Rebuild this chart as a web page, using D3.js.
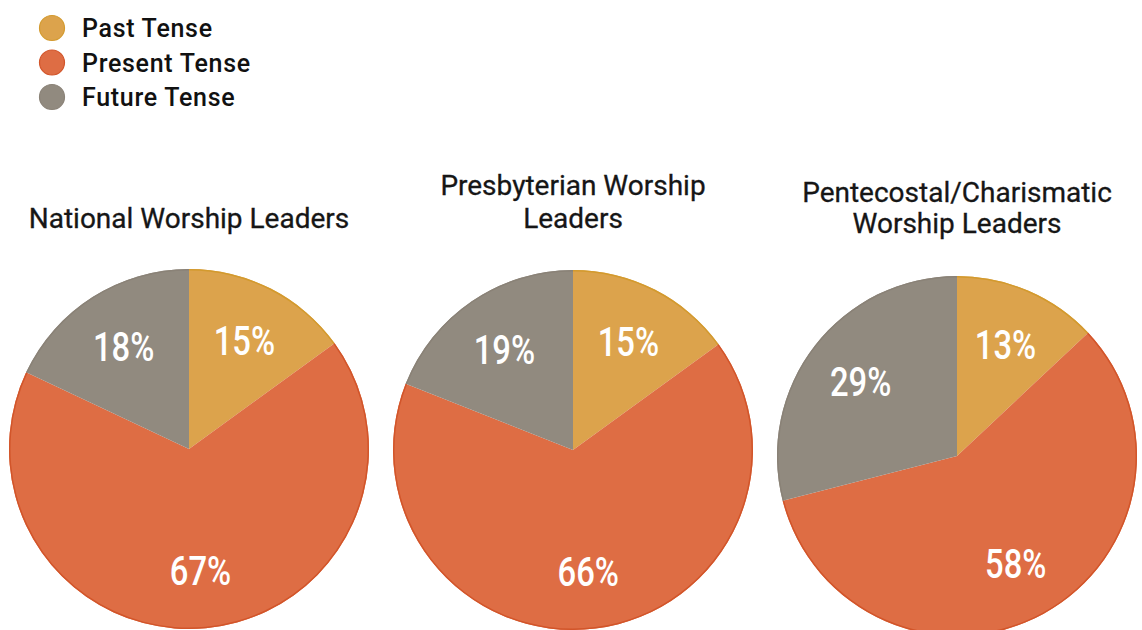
<!DOCTYPE html>
<html>
<head>
<meta charset="utf-8">
<script src="https://cdn.jsdelivr.net/npm/d3@7"></script>
<style>
  html, body { margin: 0; padding: 0; background: #ffffff; }
  svg { display: block; }
</style>
</head>
<body>
<svg id="chart" width="1142" height="630"></svg>
<script>
// ---- data ----
const categories = ["Past Tense", "Present Tense", "Future Tense"];
const groupTitles = [
  ["National Worship Leaders"],
  ["Presbyterian Worship", "Leaders"],
  ["Pentecostal/Charismatic", "Worship Leaders"]
];
const nationalValues = [15, 67, 18];
const presbyterianValues = [15, 66, 19];
const pentecostalValues = [13, 58, 29];
const seriesValues = [nationalValues, presbyterianValues, pentecostalValues];

const colors = ["#DCA34C", "#DE6D44", "#918A7F"];
const edgeColors = ["#D39A2E", "#D2552A", "#8A8277"];

// ---- layout ----
const svg = d3.select("#chart");
const pieR = 180;
const labelR = 122;
const centers = [
  {x: 189, y: 449, titleY: [228]},
  {x: 573, y: 450, titleY: [195, 228]},
  {x: 957, y: 456, titleY: [202, 233]}
];

const color = d3.scaleOrdinal().domain(categories).range(colors);
const edge = d3.scaleOrdinal().domain(categories).range(edgeColors);

// legend
const legend = svg.append("g").attr("class", "legend");
const legendY = d3.scalePoint().domain(categories).range([28, 97]);
const lg = legend.selectAll("g").data(categories).join("g")
  .attr("transform", d => `translate(52,${legendY(d)})`);
lg.append("circle").attr("r", 12.5)
  .attr("fill", d => color(d))
  .attr("stroke", d => edge(d)).attr("stroke-width", 1.2);
lg.append("text").attr("x", 30).attr("dy", "0.36em")
  .attr("font-family", "Roboto, 'Noto Sans', sans-serif")
  .attr("font-size", 25).attr("font-weight", 500)
  .attr("letter-spacing", 0.7)
  .attr("fill", "#111")
  .text(d => d);

const pie = d3.pie().sort(null).value(d => d.value);
const arc = d3.arc().innerRadius(0).outerRadius(pieR);
const edgeArc = d3.arc().innerRadius(pieR - 1.5).outerRadius(pieR);
const labelArc = d3.arc().innerRadius(labelR).outerRadius(labelR);

seriesValues.forEach((vals, i) => {
  const c = centers[i];
  const data = categories.map((k, j) => ({key: k, value: vals[j]}));
  const arcs = pie(data);

  // title
  const t = svg.append("g");
  groupTitles[i].forEach((line, li) => {
    t.append("text")
      .attr("x", c.x).attr("y", c.titleY[li])
      .attr("text-anchor", "middle")
      .attr("font-family", "Roboto, 'Noto Sans', sans-serif")
      .attr("font-size", 28)
      .attr("fill", "#161616")
      .attr("stroke", "#161616").attr("stroke-width", 0.3)
      .text(line);
  });

  const g = svg.append("g").attr("transform", `translate(${c.x},${c.y})`);
  g.selectAll("path.slice").data(arcs).join("path")
    .attr("class", "slice")
    .attr("d", arc)
    .attr("fill", d => color(d.data.key));
  g.selectAll("path.edge").data(arcs).join("path")
    .attr("class", "edge")
    .attr("d", edgeArc)
    .attr("fill", d => edge(d.data.key));
  g.selectAll("text.lab").data(arcs).join("text")
    .attr("class", "lab")
    .attr("transform", d => {
      const [x, y] = labelArc.centroid(d);
      return `translate(${x},${y}) scale(0.8,1)`;
    })
    .attr("text-anchor", "middle")
    .attr("dy", "0.36em")
    .attr("font-family", "Roboto, 'Noto Sans', sans-serif")
    .attr("font-size", 41)
    .attr("font-weight", 500)
    .attr("fill", "#ffffff")
    .text(d => d.data.value + "%");
});
</script>
</body>
</html>
